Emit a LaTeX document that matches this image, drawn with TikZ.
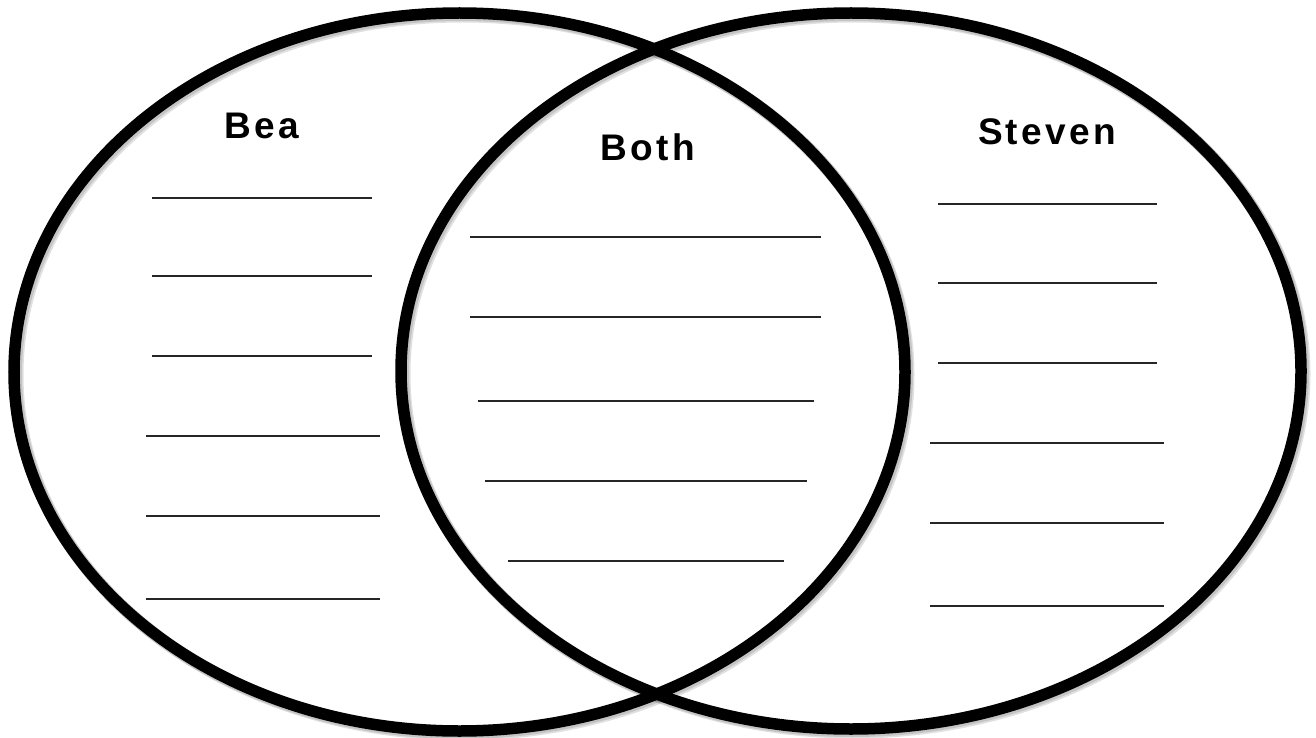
\documentclass[tikz,border=0pt]{standalone}
\usepackage{fontspec}
\setmainfont{Liberation Sans}
\newfontfamily\titlefont[LetterSpace=9]{Liberation Sans}
\begin{document}
\begin{tikzpicture}[x=1pt,y=-1pt,
  ring/.style={draw=black,line width=11.5pt},
  ringshadow/.style={draw=black,line width=13pt,opacity=0.12},
  blank/.style={draw=black!85,line width=2.8pt},
  title/.style={font=\titlefont\fontsize{37}{40}\selectfont\bfseries,anchor=base,inner sep=0pt}]
\useasboundingbox (0,0) rectangle (1316,738);
\fill[white] (0,0) rectangle (1316,738);
% shadows
\foreach \d in {1.5,3} {
  \draw[ringshadow] (459.5+\d,372+\d) ellipse [x radius=445.5pt, y radius=359pt];
  \draw[ringshadow] (851+\d,371+\d) ellipse [x radius=450pt, y radius=358pt];
}
% rings
\draw[ring] (459.5,372) ellipse [x radius=445.5pt, y radius=359pt];
\draw[ring] (851,371) ellipse [x radius=450pt, y radius=358pt];
% titles
\node[title] (bea) at (262,139) {Bea};
\node[title] (both) at (648,161) {Both};
\node[title] (steven) at (1047,145) {Steven};
% Bea blanks
\foreach \y in {198,276,356} \draw[blank] (152,\y) -- (372,\y);
\foreach \y in {436,516,599} \draw[blank] (146,\y) -- (380,\y);
% Both blanks
\draw[blank] (470,237) -- (821,237);
\draw[blank] (470,317) -- (821,317);
\draw[blank] (478,401) -- (814,401);
\draw[blank] (485,481) -- (807,481);
\draw[blank] (508,561) -- (784,561);
% Steven blanks
\foreach \y in {204,283,363} \draw[blank] (938,\y) -- (1157,\y);
\foreach \y in {443,523,606} \draw[blank] (930,\y) -- (1164,\y);
\end{tikzpicture}
\end{document}
